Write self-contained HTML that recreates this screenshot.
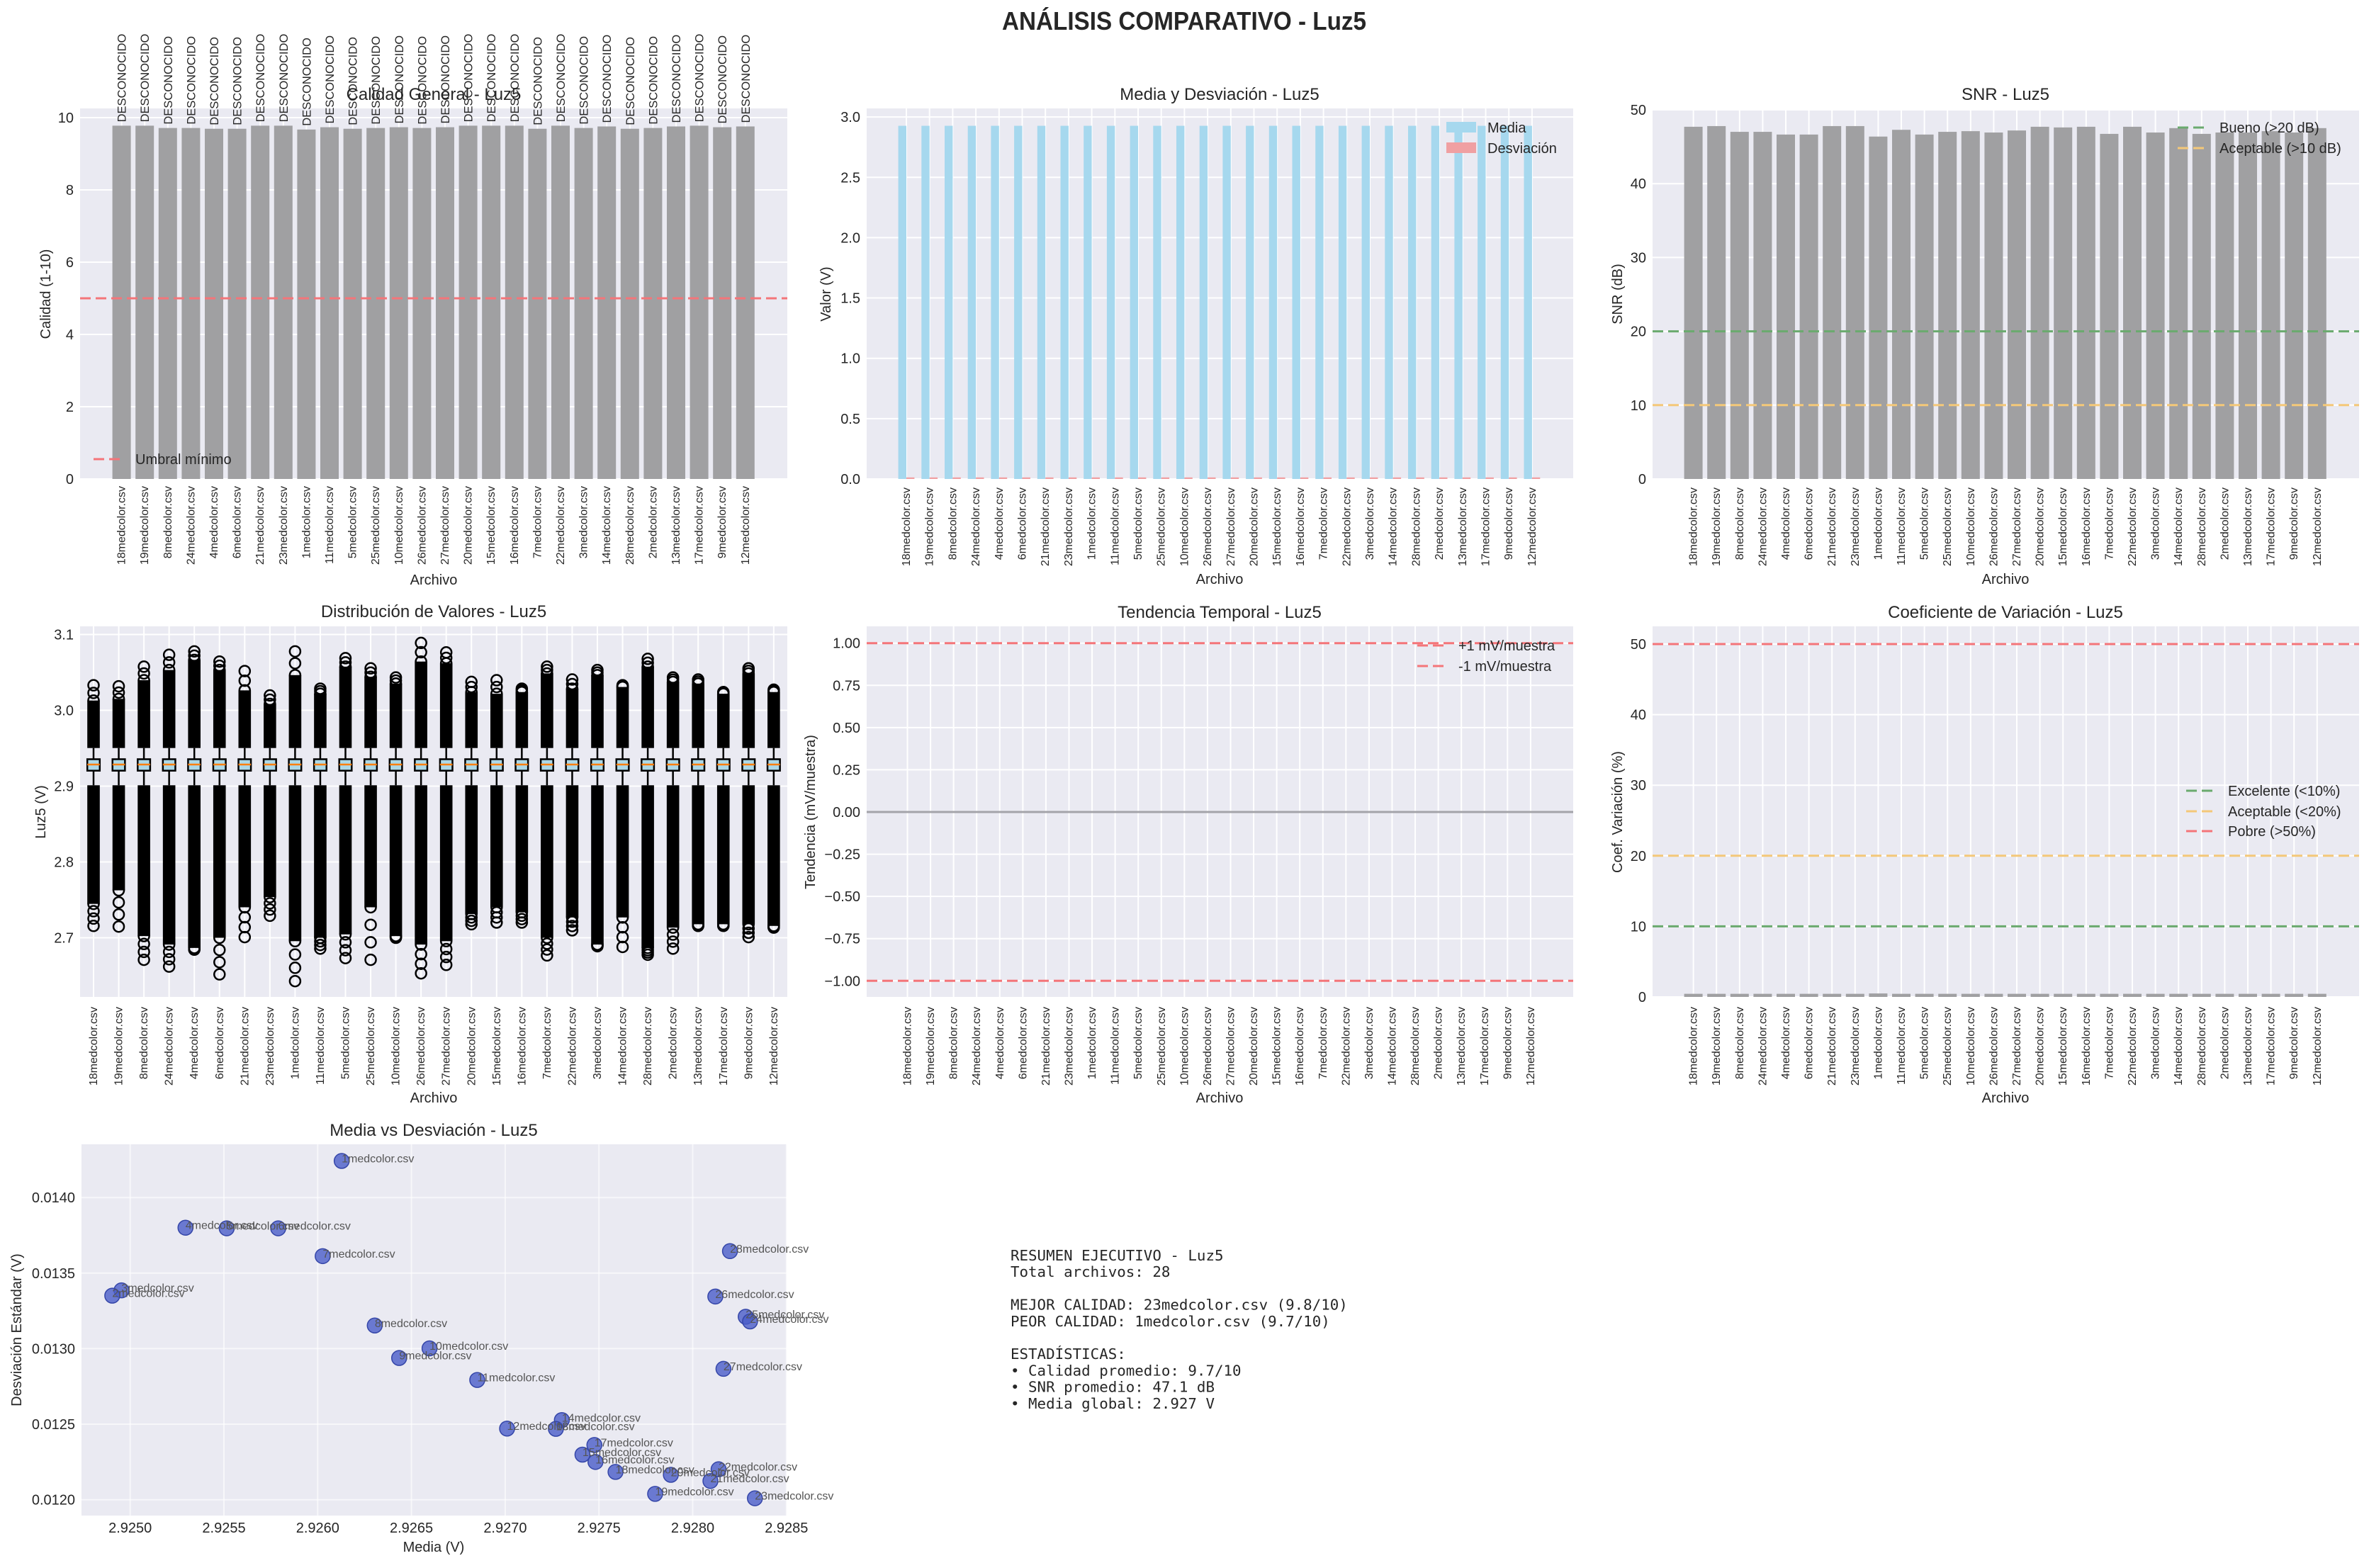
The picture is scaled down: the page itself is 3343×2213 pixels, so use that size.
<!DOCTYPE html>
<html><head><meta charset="utf-8"><style>
html,body{margin:0;padding:0;background:#fff;}
svg text{font-family:"Liberation Sans",sans-serif;fill:#262626;}
</style></head><body>
<svg id="s" xmlns="http://www.w3.org/2000/svg" width="3343" height="2208" viewBox="0 0 3343 2208">
<rect width="3343" height="2208" fill="#fff"/>
</svg>
<script>
const NS='http://www.w3.org/2000/svg';
const svg=document.getElementById('s');
function el(tag,a,t){const e=document.createElementNS(NS,tag);for(const k in a)e.setAttribute(k,a[k]);if(t!==undefined)e.textContent=t;svg.appendChild(e);return e;}
const files=["18","19","8","24","4","6","21","23","1","11","5","25","10","26","27","20","15","16","7","22","3","14","28","2","13","17","9","12"].map(s=>s+"medcolor.csv");
const BG="#eaeaf2",GRAY="#a0a0a2",RED="#f47579",GREEN="#6aaa6e",ORANGE="#f4c879";

function frame(L,T,R,B){el('rect',{x:L,y:T,width:R-L,height:B-T,fill:BG});}
function hgrid(L,R,ys,op){ys.forEach(y=>el('line',{x1:L,x2:R,y1:y,y2:y,stroke:'#fff','stroke-width':2,'stroke-opacity':op||1}));}
function vgrid(T,B,xs,op){xs.forEach(x=>el('line',{x1:x,x2:x,y1:T,y2:B,stroke:'#fff','stroke-width':2,'stroke-opacity':op||1}));}
function yticks(L,list){list.forEach(([y,l])=>el('text',{x:L-9,y:y+7,'font-size':20,'text-anchor':'end'},l));}
function xrot(xs,y0){xs.forEach((x,i)=>el('text',{transform:`translate(${x+5},${y0}) rotate(-90)`,'font-size':16,'text-anchor':'end'},files[i]));}
function title(cx,cy,t){el('text',{x:cx,y:cy+8,'font-size':24,'text-anchor':'middle'},t);}
function xlabel(cx,cy,t){el('text',{x:cx,y:cy+7,'font-size':20,'text-anchor':'middle'},t);}
function ylabel(cx,cy,t){el('text',{transform:`translate(${cx+7},${cy}) rotate(-90)`,'font-size':20,'text-anchor':'middle'},t);}
function hdash(L,R,y,c,w){el('line',{x1:L,x2:R,y1:y,y2:y,stroke:c,'stroke-width':w||3,'stroke-dasharray':'15,7'});}
function range(x0,dx,n){return Array.from({length:n},(_,i)=>x0+i*dx);}

el('text',{x:1671,y:42,'font-size':36,'font-weight':'bold','text-anchor':'middle',textLength:514,lengthAdjust:'spacingAndGlyphs'},'ANÁLISIS COMPARATIVO - Luz5');

// ---------- Plot 1 ----------
(function(){
 const L=113,R=1111,T=153,B=676,y=v=>676-v*51;
 frame(L,T,R,B);
 const xs=range(171.6,32.6,28);
 vgrid(T,B,xs);hgrid(L,R,[0,2,4,6,8,10].map(y));
 const q=[328,328,334,334,336,336,328,328,338,332,336,334,332,334,332,328,328,328,336,328,334,330,336,334,330,328,332,330].map(z=>(1248-z)/94.1);
 xs.forEach((x,i)=>{el('rect',{x:x-13,y:y(q[i]),width:26,height:B-y(q[i]),fill:GRAY});
   el('text',{transform:`translate(${x+6},${y(q[i])-5}) rotate(-90)`,'font-size':16.5},'DESCONOCIDO');});
 hdash(L,R,y(5),RED);
 yticks(L,[0,2,4,6,8,10].map(v=>[y(v),String(v)]));
 xrot(xs,686);
 title(612,133,'Calidad General - Luz5');xlabel(612,818,'Archivo');ylabel(64,415,'Calidad (1-10)');
 hdash(132,176,648,RED);el('text',{x:191,y:655,'font-size':20},'Umbral mínimo');
})();

// ---------- Plot 2 ----------
(function(){
 const L=1223,R=2220,T=153,B=676,y=v=>676-v*170.3;
 frame(L,T,R,B);
 const xs=range(1279,32.7,28);
 vgrid(T,B,xs);hgrid(L,R,[0,0.5,1,1.5,2,2.5,3].map(y));
 xs.forEach(x=>{el('rect',{x:x-11.4,y:y(2.927),width:11.4,height:B-y(2.927),fill:'#a6d8ee'});
  el('rect',{x:x,y:y(0.013),width:11.4,height:B-y(0.013),fill:'#f0a0a2'});});
 yticks(L,[0,0.5,1,1.5,2,2.5,3].map(v=>[y(v),v.toFixed(1)]));
 xrot(xs,688);
 title(1721,133,'Media y Desviación - Luz5');xlabel(1721,817,'Archivo');ylabel(1165,415,'Valor (V)');
 el('rect',{x:2041,y:172,width:42,height:15,fill:'#a6d8ee'});el('text',{x:2099,y:187,'font-size':20},'Media');
 el('rect',{x:2041,y:201,width:42,height:15,fill:'#f0a0a2'});el('text',{x:2099,y:216,'font-size':20},'Desviación');
})();

// ---------- Plot 3 ----------
(function(){
 const L=2332,R=3329,T=154,B=676,y=v=>676-v*10.42;
 frame(L,T,R,B);
 const xs=range(2389.6,32.6,28);
 vgrid(T,B,xs);hgrid(L,R,[0,10,20,30,40,50].map(y));
 const s=[165,163,180,180,188,188,163,163,194,174,188,180,178,182,176,165,167,165,186,165,182,169,186,182,182,178,182,169].map(z=>(1205-z)/21.8);
 xs.forEach((x,i)=>el('rect',{x:x-13,y:y(s[i]),width:26,height:B-y(s[i]),fill:GRAY}));
 hdash(L,R,y(20),GREEN);hdash(L,R,y(10),ORANGE);
 yticks(L,[0,10,20,30,40,50].map(v=>[y(v),String(v)]));
 xrot(xs,688);
 title(2830,133,'SNR - Luz5');xlabel(2830,817,'Archivo');ylabel(2282,415,'SNR (dB)');
 hdash(3073,3117,180,GREEN);el('text',{x:3132,y:187,'font-size':20},'Bueno (>20 dB)');
 hdash(3073,3117,209,ORANGE);el('text',{x:3132,y:216,'font-size':20},'Aceptable (>10 dB)');
})();

// ---------- Plot 4 (boxplot) ----------
(function(){
 const L=113,R=1111,T=884,B=1407,y=v=>1109.5-(v-2.9)*1070;
 frame(L,T,R,B);
 const xs=range(132,35.55,28);
 vgrid(T,B,xs);hgrid(L,R,[2.7,2.8,2.9,3.0,3.1].map(y));
 const Z=z=>z/2.0907+850;
 const d=[[245,290,890,955],[248,285,850,957],[190,230,985,1055],[155,200,1010,1075],[145,170,1020,1025],[175,200,990,1098],[203,260,900,988],[275,300,870,925],[145,215,1000,1118],[255,270,990,1022],[165,190,980,1050],[195,220,900,1055],[222,240,985,990],[120,175,1010,1095],[148,180,1000,1070],[235,265,920,950],[230,270,900,945],[255,265,915,945],[190,210,990,1042],[228,255,930,968],[200,215,1010,1015],[245,250,930,1017],[167,190,1020,1040],[222,235,960,1022],[228,240,950,955],[265,270,950,955],[195,210,950,988],[258,265,955,960]];
 xs.forEach((x,i)=>{
  const [a,b,c,e]=d[i].map(Z);
  const capT=1055.7,capB=1108.3,q3=1071.5,q1=1087.7;
  el('rect',{x:x-8.8,y:b,width:17.6,height:capT-b,fill:'#000'});
  el('rect',{x:x-8.8,y:capB,width:17.6,height:c-capB,fill:'#000'});
  const ups=[a,(a+b)/2,b];ups.forEach(yy=>el('circle',{cx:x,cy:yy,r:7.5,fill:'none',stroke:'#000','stroke-width':2.5}));
  const dn=[c,(c*2+e)/3,(c+e*2)/3,e];dn.forEach(yy=>el('circle',{cx:x,cy:yy,r:7.5,fill:'none',stroke:'#000','stroke-width':2.5}));
  el('line',{x1:x,x2:x,y1:capT,y2:q3,stroke:'#000','stroke-width':2.5});
  el('line',{x1:x,x2:x,y1:q1,y2:capB,stroke:'#000','stroke-width':2.5});
  el('rect',{x:x-8.8,y:q3,width:17.6,height:q1-q3,fill:'#add8e6',stroke:'#000','stroke-width':2.5});
  el('line',{x1:x-8.8,x2:x+8.8,y1:1079,y2:1079,stroke:'#ff7f0e','stroke-width':2.5});
 });
 yticks(L,[2.7,2.8,2.9,3.0,3.1].map(v=>[y(v),v.toFixed(1)]));
 xrot(xs,1421);
 title(612,863,'Distribución de Valores - Luz5');xlabel(612,1549,'Archivo');ylabel(57,1146,'Luz5 (V)');
})();

// ---------- Plot 5 ----------
(function(){
 const L=1223,R=2220,T=884,B=1407,y=v=>1146-v*238.3;
 frame(L,T,R,B);
 const xs=range(1280.5,32.57,28);
 const tv=[-1,-0.75,-0.5,-0.25,0,0.25,0.5,0.75,1];
 vgrid(T,B,xs);hgrid(L,R,tv.map(y));
 el('line',{x1:L,x2:R,y1:y(0),y2:y(0),stroke:'#a4a4a9','stroke-width':3});
 hdash(L,R,y(1),RED);hdash(L,R,y(-1),RED);
 yticks(L,tv.map(v=>[y(v),(v<0?'−':'')+Math.abs(v).toFixed(2)]));
 xrot(xs,1421);
 title(1721,864,'Tendencia Temporal - Luz5');xlabel(1721,1549,'Archivo');ylabel(1143,1146,'Tendencia (mV/muestra)');
 hdash(2000,2044,911,RED);el('text',{x:2058,y:918,'font-size':20},'+1 mV/muestra');
 hdash(2000,2044,940,RED);el('text',{x:2058,y:947,'font-size':20},'-1 mV/muestra');
})();

// ---------- Plot 6 ----------
(function(){
 const L=2332,R=3329,T=884,B=1407,y=v=>1407-v*9.96;
 frame(L,T,R,B);
 const xs=range(2389.6,32.6,28);
 vgrid(T,B,xs);hgrid(L,R,[0,10,20,30,40,50].map(y));
 xs.forEach((x,i)=>{const h=(i==8?0.49:0.44);el('rect',{x:x-13,y:y(h),width:26,height:B-y(h),fill:GRAY});});
 hdash(L,R,y(10),GREEN);hdash(L,R,y(20),ORANGE);hdash(L,R,y(50),RED);
 yticks(L,[0,10,20,30,40,50].map(v=>[y(v),String(v)]));
 xrot(xs,1421);
 title(2830,864,'Coeficiente de Variación - Luz5');xlabel(2830,1549,'Archivo');ylabel(2282,1146,'Coef. Variación (%)');
 hdash(3085,3129,1116,GREEN);el('text',{x:3144,y:1123,'font-size':20},'Excelente (<10%)');
 hdash(3085,3129,1145,ORANGE);el('text',{x:3144,y:1152,'font-size':20},'Aceptable (<20%)');
 hdash(3085,3129,1173,RED);el('text',{x:3144,y:1180,'font-size':20},'Pobre (>50%)');
})();

// ---------- Plot 7 scatter ----------
(function(){
 const L=115,R=1110,T=1615,B=2139;
 const x=v=>183.7+(v-2.925)/0.0005*132.3, y=v=>2116.6-(v-0.012)/0.0005*106.6;
 frame(L,T,R,B);
 const xv=[2.925,2.9255,2.926,2.9265,2.927,2.9275,2.928,2.9285], yv=[0.012,0.0125,0.013,0.0135,0.014];
 vgrid(T,B,xv.map(x),0.6);hgrid(L,R,yv.map(y),0.6);
 const P=[["1",630,190],["4",342,418],["5",418,420],["6",513,420],["7",595,515],["28",1346,498],["3",224,632],["2",207,650],["26",1319,653],["25",1375,722],["24",1383,738],["8",691,752],["10",792,830],["9",736,863],["27",1334,900],["11",880,938],["14",1036,1075],["12",935,1104],["13",1025,1105],["17",1096,1160],["15",1074,1193],["16",1098,1218],["18",1135,1252],["20",1237,1262],["22",1325,1243],["21",1310,1283],["19",1208,1327],["23",1392,1342]];
 P.forEach(([n,zx,zy])=>el('circle',{cx:zx/1.3067,cy:zy/2.4198+1560,r:10.5,fill:'#4a5cc8','fill-opacity':0.8,stroke:'#3546a8','stroke-width':1.5}));
 P.forEach(([n,zx,zy])=>{const t=el('text',{x:zx/1.3067,y:zy/2.4198+1560+2,'font-size':16});t.style.fill='#555';t.textContent=n+'medcolor.csv';});
 xv.forEach(v=>el('text',{x:x(v),y:2163,'font-size':20,'text-anchor':'middle'},v.toFixed(4)));
 yticks(L,yv.map(v=>[y(v),v.toFixed(4)]));
 title(612,1595,'Media vs Desviación - Luz5');xlabel(612,2183,'Media (V)');ylabel(23,1877,'Desviación Estándar (V)');
})();

// ---------- Summary ----------
(function(){
 const lines=["RESUMEN EJECUTIVO - Luz5","Total archivos: 28","","MEJOR CALIDAD: 23medcolor.csv (9.8/10)","PEOR CALIDAD: 1medcolor.csv (9.7/10)","","ESTADÍSTICAS:","• Calidad promedio: 9.7/10","• SNR promedio: 47.1 dB","• Media global: 2.927 V"];
 lines.forEach((l,i)=>{if(!l)return;const t=el('text',{x:1426,y:1779+i*23.2,'font-size':20.8,'xml:space':'preserve'});t.style.fontFamily='"DejaVu Sans Mono","Liberation Mono",monospace';t.textContent=l;});
})();
</script>
</body></html>
